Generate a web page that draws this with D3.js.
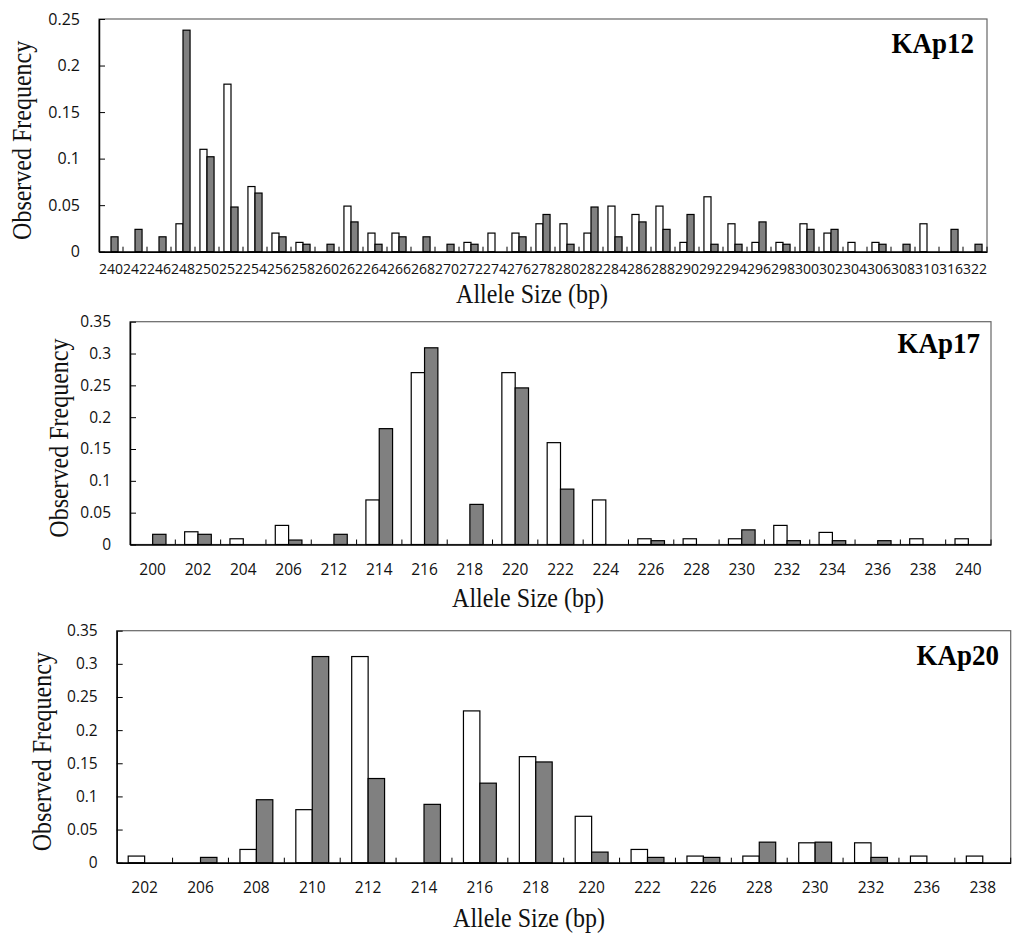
<!DOCTYPE html>
<html>
<head>
  <meta charset="utf-8">
  <title>Allele frequencies</title>
  <script src="https://d3js.org/d3.v7.min.js"></script>
  <style>
    body { margin: 0; background: #fff; }
    .tick text { font-family: "Open Sans", sans-serif; fill: #111; }
    .title { font-family: "Liberation Serif", "Times New Roman", serif; fill: #111; }
    .marker { font-family: "Liberation Serif", "Times New Roman", serif; font-weight: bold; fill: #000; }
  </style>
</head>
<body>
<svg id="chart" width="1024" height="945"></svg>
<script>
  // KAp12
  const kap12Alleles = ["240","242","246","248","250","252","254","256","258","260","262","264","266","268","270","272","274","276","278","280","282","284","286","288","290","292","294","296","298","300","302","304","306","308","310","316","322"];
  const kap12White = [0,0,0,0.03,0.11,0.18,0.07,0.02,0.01,0,0.049,0.02,0.02,0,0,0.01,0.02,0.02,0.03,0.03,0.02,0.049,0.04,0.049,0.01,0.059,0.03,0.01,0.01,0.03,0.02,0.01,0.01,0,0.03,0,0];
  const kap12Gray = [0.016,0.024,0.016,0.238,0.102,0.048,0.063,0.016,0.008,0.008,0.032,0.008,0.016,0.016,0.008,0.008,0,0.016,0.04,0.008,0.048,0.016,0.032,0.024,0.04,0.008,0.008,0.032,0.008,0.024,0.024,0,0.008,0.008,0,0.024,0.008];
  const kap12YTicks = [0,0.05,0.1,0.15,0.2,0.25];

  // KAp17
  const kap17Alleles = ["200","202","204","206","212","214","216","218","220","222","224","226","228","230","232","234","236","238","240"];
  const kap17White = [0,0.02,0.009,0.03,0,0.07,0.27,0,0.27,0.16,0.07,0.009,0.009,0.009,0.03,0.019,0,0.009,0.009];
  const kap17Gray = [0.016,0.016,0,0.007,0.016,0.182,0.309,0.063,0.246,0.087,0,0.006,0,0.023,0.006,0.006,0.006,0,0];
  const kap17YTicks = [0,0.05,0.1,0.15,0.2,0.25,0.3,0.35];

  // KAp20
  const kap20Alleles = ["202","206","208","210","212","214","216","218","220","222","226","228","230","232","236","238"];
  const kap20White = [0.01,0,0.02,0.08,0.311,0,0.229,0.16,0.07,0.02,0.01,0.01,0.03,0.03,0.01,0.01];
  const kap20Gray = [0,0.008,0.095,0.311,0.127,0.088,0.12,0.152,0.016,0.008,0.008,0.031,0.031,0.008,0,0];
  const kap20YTicks = [0,0.05,0.1,0.15,0.2,0.25,0.3,0.35];

  const svg = d3.select("#chart");

  const panels = [
    { name: "KAp12", alleles: kap12Alleles, white: kap12White, gray: kap12Gray, yTicks: kap12YTicks,
      x0: 99, x1: 987, y0: 19, y1: 251.7, xFont: 14, xLabelDy: 17, yFont: 16,
      yTitleX: 25, xTitleX: 532, xTitleY: 303, markX: 974, markY: 53 },
    { name: "KAp17", alleles: kap17Alleles, white: kap17White, gray: kap17Gray, yTicks: kap17YTicks,
      x0: 130, x1: 991, y0: 321.7, y1: 544.5, xFont: 15.5, xLabelDy: 24, yFont: 15.5,
      yTitleX: 61.7, xTitleX: 528, xTitleY: 606.5, markX: 980, markY: 352.5 },
    { name: "KAp20", alleles: kap20Alleles, white: kap20White, gray: kap20Gray, yTicks: kap20YTicks,
      x0: 116.7, x1: 1010.7, y0: 630.7, y1: 862.7, xFont: 15.5, xLabelDy: 24, yFont: 15.5,
      yTitleX: 45, xTitleX: 529, xTitleY: 927, markX: 999, markY: 665 }
  ];

  panels.forEach(drawPanel);

  function drawPanel(p) {
    const g = svg.append("g").attr("class", "panel");

    const x = d3.scaleBand().domain(p.alleles).range([p.x0, p.x1]);
    const inner = d3.scaleBand().domain(["white", "gray"])
      .range([0, x.bandwidth()]).paddingInner(0).paddingOuter(0.7);
    const y = d3.scaleLinear().domain([0, d3.max(p.yTicks)]).range([p.y1, p.y0]);

    // plot area frame
    g.append("rect")
      .attr("x", p.x0).attr("y", p.y0)
      .attr("width", p.x1 - p.x0).attr("height", p.y1 - p.y0)
      .attr("fill", "none").attr("stroke", "#666").attr("stroke-width", 1.2);

    // bars
    const rows = p.alleles.map((a, i) => ({ allele: a, white: p.white[i], gray: p.gray[i] }));
    const bars = [];
    rows.forEach(r => {
      ["white", "gray"].forEach(k => { if (r[k] > 0) bars.push({ allele: r.allele, key: k, value: r[k] }); });
    });
    g.append("g").selectAll("rect").data(bars).join("rect")
      .attr("x", d => x(d.allele) + inner(d.key))
      .attr("y", d => y(d.value))
      .attr("width", inner.bandwidth())
      .attr("height", d => y(0) - y(d.value))
      .attr("fill", d => d.key === "white" ? "#fff" : "#808080")
      .attr("stroke", "#000")
      .attr("stroke-width", 1.2);

    // y axis, inside ticks
    const yAxis = d3.axisLeft(y).tickValues(p.yTicks).tickFormat(d3.format("~g"))
      .tickSizeInner(-6).tickSizeOuter(0).tickPadding(19);
    const ya = g.append("g").attr("transform", `translate(${p.x0},0)`).call(yAxis);
    ya.select(".domain").attr("stroke", "#000").attr("stroke-width", 1.5);
    ya.selectAll(".tick line").attr("stroke", "#000");
    ya.selectAll(".tick text").style("font-size", p.yFont + "px");

    // x axis labels at category centres
    const xAxis = d3.axisBottom(x).tickSize(0).tickPadding(0);
    const xa = g.append("g").attr("transform", `translate(0,${p.y1})`).call(xAxis);
    xa.select(".domain").attr("stroke", "#000").attr("stroke-width", 1.5);
    xa.selectAll(".tick text")
      .attr("dy", null).attr("y", p.xLabelDy)
      .attr("dominant-baseline", "central")
      .style("font-size", p.xFont + "px");

    // category boundary ticks, pointing up
    const bounds = p.alleles.slice(1).map(a => x(a)).concat([x.range()[1]]);
    g.append("g").selectAll("line").data(bounds).join("line")
      .attr("x1", d => d).attr("x2", d => d)
      .attr("y1", p.y1).attr("y2", p.y1 - 5)
      .attr("stroke", "#000").attr("stroke-width", 1);

    // titles (slightly tall, like the source image)
    g.append("text").attr("class", "title")
      .attr("transform", `translate(${p.yTitleX + 5.8},${(p.y0 + p.y1) / 2 + 5}) rotate(-90) scale(1,1.12)`)
      .attr("text-anchor", "middle")
      .style("font-size", "24px")
      .text("Observed Frequency");

    g.append("text").attr("class", "title")
      .attr("transform", `translate(${p.xTitleX},${p.xTitleY}) scale(1,1.12)`)
      .attr("text-anchor", "middle")
      .style("font-size", "24px")
      .text("Allele Size (bp)");

    g.append("text").attr("class", "marker")
      .attr("transform", `translate(${p.markX},${p.markY}) scale(1,1.08)`)
      .attr("text-anchor", "end")
      .style("font-size", "27px")
      .text(p.name);
  }
</script>
</body>
</html>
